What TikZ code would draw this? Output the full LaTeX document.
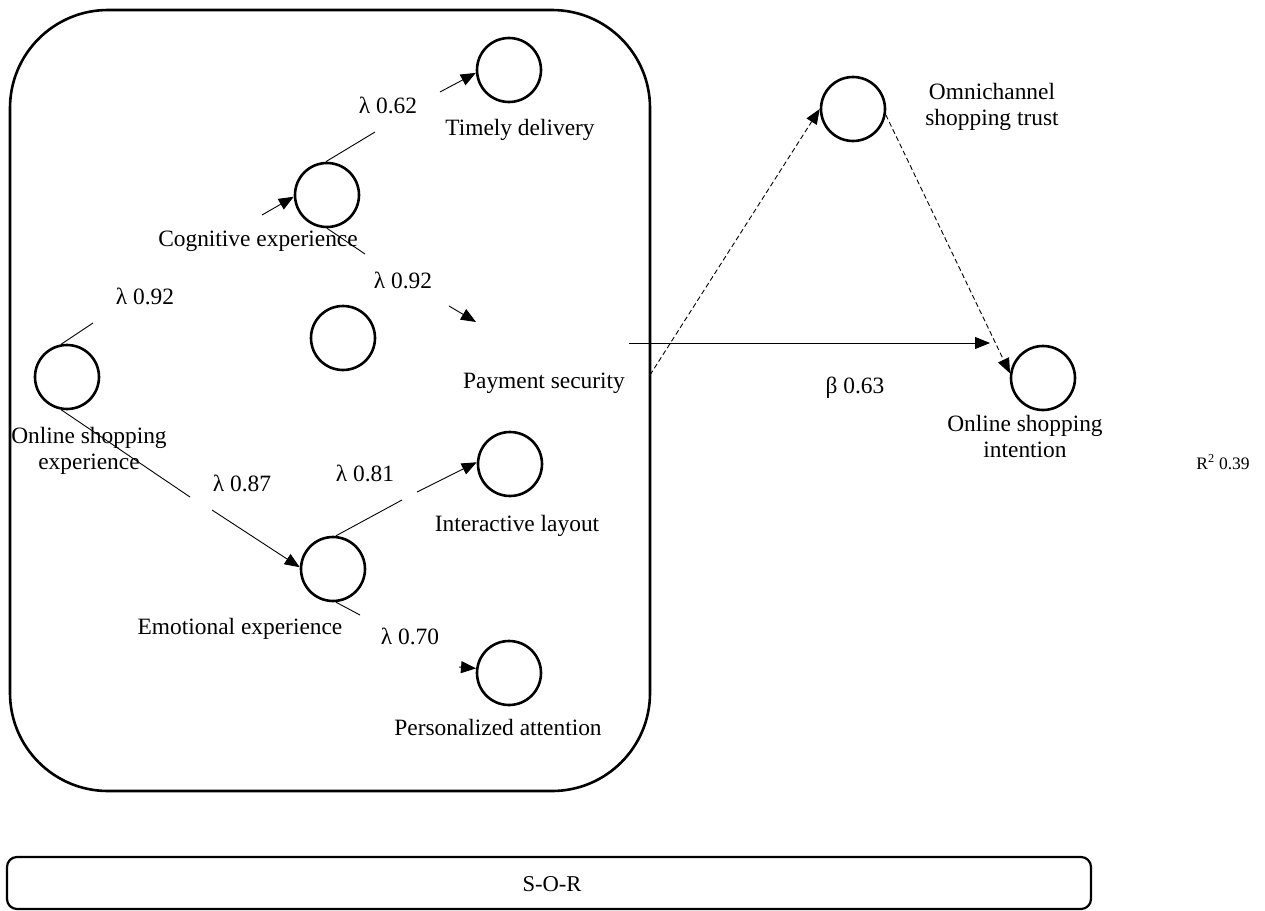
\documentclass[tikz,border=0pt]{standalone}
\usepackage{fontspec}
\setmainfont{Liberation Serif}
\usetikzlibrary{arrows.meta}
\begin{document}
\begin{tikzpicture}[x=1pt,y=-1pt,
  lat/.style={circle,draw,line width=2.6pt,minimum size=64pt,inner sep=0pt},
  lbl/.style={inner sep=0pt,font=\fontsize{23.4}{26}\selectfont,align=center},
  seg/.style={line width=0.9pt},
  arr/.style={line width=0.9pt,-{Triangle[length=15pt,width=12pt]}},
  dsh/.style={line width=0.9pt,dash pattern=on 5pt off 3pt,-{Triangle[length=15pt,width=12pt]}},
  framebox/.style={draw,line width=2.6pt,rounded corners=98pt},
  sorbox/.style={draw,line width=2.2pt,rounded corners=10pt,minimum width=1084pt,minimum height=52pt,inner sep=0pt}]
\useasboundingbox (0,0) rectangle (1265,910);

% frame
\draw[framebox] (10,10) rectangle (650,791);

% latent variables
\node[lat] (td) at (509,70) {};
\node[lat] (ce) at (327,195) {};
\node[lat] (ps) at (343,338) {};
\node[lat] (ose) at (67,377) {};
\node[lat] (ee) at (333,569) {};
\node[lat] (il) at (510,464) {};
\node[lat] (pa) at (509,673) {};
\node[lat] (ost) at (853,109) {};
\node[lat] (osi) at (1043,378) {};

% free ends
\coordinate (a1) at (440,92);
\coordinate (a2) at (375,132);
\coordinate (a3) at (262,215);
\coordinate (a4) at (365,254);
\coordinate (a5s) at (449,306);
\coordinate (a5e) at (476,322);
\coordinate (a6) at (93,323);
\coordinate (a7) at (190,497);
\coordinate (a8) at (212,510);
\coordinate (a9) at (402,500);
\coordinate (a10) at (417,492);
\coordinate (a11) at (360,615);
\coordinate (a12) at (459,667);
\coordinate (hs) at (629,343);
\coordinate (he) at (990,343);
\coordinate (ds) at (650,375);

% connectors
\draw[arr] (a1) -- (td.185);
\draw[seg] (ce.92) -- (a2);
\draw[arr] (a3) -- (ce.183);
\draw[seg] (ce.270) -- (a4);
\draw[arr] (a5s) -- (a5e);
\draw[seg] (ose.100) -- (a6);
\draw[seg] (ose.260) -- (a7);
\draw[arr] (a8) -- (ee.177);
\draw[seg] (ee.85) -- (a9);
\draw[arr] (a10) -- (il.177);
\draw[seg] (ee.275) -- (a11);
\draw[arr] (a12) -- (pa.172);
\draw[arr] (hs) -- (he);
\draw[dsh] (ds) -- (ost.180);
\draw[dsh] (ost.-10) -- (osi.172);

% labels
\node[lbl] (l1) at (388,105) {λ 0.62};
\node[lbl] (t1) at (520,130) {Timely delivery};
\node[lbl] (t2) at (258,241) {Cognitive experience};
\node[lbl] (l2) at (403,280) {λ 0.92};
\node[lbl] (l3) at (145,296) {λ 0.92};
\node[lbl] (t3) at (544,383) {Payment security};
\node[lbl] (t4) at (89,451) {Online shopping\\experience};
\node[lbl] (l4) at (242,483) {λ 0.87};
\node[lbl] (l5) at (365,473) {λ 0.81};
\node[lbl] (t5) at (517,526) {Interactive layout};
\node[lbl] (t6) at (240,629) {Emotional experience};
\node[lbl] (l6) at (410,636) {λ 0.70};
\node[lbl] (t7) at (498,727) {Personalized attention};
\node[lbl] (t8) at (992,107) {Omnichannel\\shopping trust};
\node[lbl] (l7) at (855,388) {β 0.63};
\node[lbl] (t9) at (1025,436) {Online shopping\\intention};
\node[inner sep=0pt,font=\fontsize{17.5}{20}\selectfont] (r2) at (1223,462) {R\textsuperscript{2} 0.39};

% S-O-R
\node[sorbox] (sor) at (549,883) {};
\node[inner sep=0pt,font=\fontsize{22.6}{25}\selectfont] (sorl) at (552,884) {S-O-R};
\end{tikzpicture}
\end{document}
